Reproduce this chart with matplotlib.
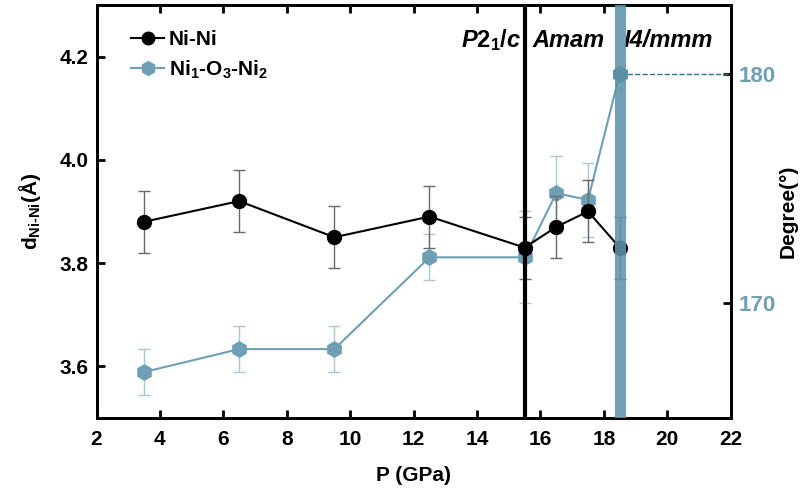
import matplotlib
matplotlib.use("Agg")
import matplotlib.pyplot as plt
from matplotlib.lines import Line2D

plt.rcParams['font.family'] = ['Liberation Sans', 'DejaVu Sans']
plt.rcParams['font.weight'] = 'bold'
plt.rcParams['mathtext.fontset'] = 'custom'
plt.rcParams['mathtext.rm'] = 'Liberation Sans:bold'
plt.rcParams['mathtext.it'] = 'Liberation Sans:bold:italic'
plt.rcParams['mathtext.bf'] = 'Liberation Sans:bold'

pressure = [3.5, 6.5, 9.5, 12.5, 15.5, 16.5, 17.5, 18.5]
ni_ni = [3.88, 3.92, 3.85, 3.89, 3.83, 3.87, 3.90, 3.83]
ni_ni_err = [0.06, 0.06, 0.06, 0.06, 0.06, 0.06, 0.06, 0.06]
angle = [167.0, 168.0, 168.0, 172.0, 172.0, 174.8, 174.5, 180.0]
angle_err = [1.0, 1.0, 1.0, 1.0, 2.0, 1.6, 1.6, 0.0]
phase_bounds = [15.5, 18.5]
phase_labels = ["$P2_1/c$", "Amam", "I4/mmm"]
x_ticks = [2, 4, 6, 8, 10, 12, 14, 16, 18, 20, 22]
y_ticks = [3.6, 3.8, 4.0, 4.2]
y2_ticks = [170, 180]

blue = '#6f9fb5'
blue_err = '#a9c7d5'
dash_blue = '#2f6f90'

fig = plt.figure(figsize=(8.11, 4.94), dpi=100)
ax = fig.add_axes([0.119, 0.154, 0.782, 0.836])
ax2 = ax.twinx()

ax.set_xlim(2, 22)
ax.set_ylim(3.5, 4.3)
ax2.set_ylim(165, 183)

# angle series on right axis
ax2.errorbar(pressure, angle, yerr=angle_err, color=blue, ecolor=blue_err,
             elinewidth=1.0, capsize=4, capthick=1.0, marker='h', markersize=11,
             lw=1.5, zorder=3)
ax2.plot([pressure[-1], 22], [angle[-1], angle[-1]], ls='--', color=dash_blue, lw=1.0)

# Ni-Ni on left axis
ax.set_zorder(ax2.get_zorder() + 1)
ax.patch.set_visible(False)
ax.errorbar(pressure, ni_ni, yerr=ni_ni_err, color='black', ecolor='#6a6a6a',
            elinewidth=1.0, capsize=4, capthick=1.0, marker='o', markersize=10,
            lw=1.5, zorder=4)

# phase boundaries
ax.axvline(phase_bounds[0], color='black', lw=3, zorder=6)
ax.axvline(phase_bounds[1], color='#5f94ad', lw=8, alpha=0.88, zorder=5)
# last angle point drawn over the boundary line
ax.plot(pressure[-1:], angle[-1:], transform=ax2.transData, marker='h',
        markersize=11, color='#5a8fa8', ls='none', zorder=7)

# legend
h1 = Line2D([], [], color='black', marker='o', markersize=9, lw=1.5)
h2 = Line2D([], [], color=blue, marker='h', markersize=10, lw=1.5)
ax.legend([h1, h2], ['Ni-Ni', 'Ni$_1$-O$_3$-Ni$_2$'], loc='upper left',
          bbox_to_anchor=(0.025, 0.985), frameon=False, fontsize=15,
          handlelength=1.6, handletextpad=0.2, labelspacing=0.45)

# phase labels
ax.text(15.4, 4.232, phase_labels[0], ha='right', va='center', fontsize=17,
        style='italic', fontweight='bold')
ax.text(15.75, 4.232, phase_labels[1], ha='left', va='center', fontsize=17,
        style='italic', fontweight='bold')
ax.text(18.62, 4.232, phase_labels[2], ha='left', va='center', fontsize=17,
        style='italic', fontweight='bold')

ax.set_xticks(x_ticks)
ax.set_yticks(y_ticks)
ax.set_yticklabels([f"{v:.1f}" for v in y_ticks])
ax2.set_yticks(y2_ticks)
ax.tick_params(axis='both', direction='in', width=2, length=6, labelsize=15,
               top=True, pad=6)
ax.tick_params(axis='x', pad=9)
ax2.tick_params(axis='y', direction='in', width=2, length=6, labelsize=16,
                labelcolor=blue, pad=6)
for a in (ax, ax2):
    for s in a.spines.values():
        s.set_linewidth(2)

ax.set_xlabel('P (GPa)', fontsize=15, fontweight='bold', labelpad=12)
ax.set_ylabel('d$_{\\rm Ni\\text{-}Ni}$(Å)', fontsize=15, fontweight='bold', labelpad=12)
ax2.set_ylabel('Degree(°)', fontsize=15, fontweight='bold', labelpad=2)

fig.savefig('out.png', dpi=100)
